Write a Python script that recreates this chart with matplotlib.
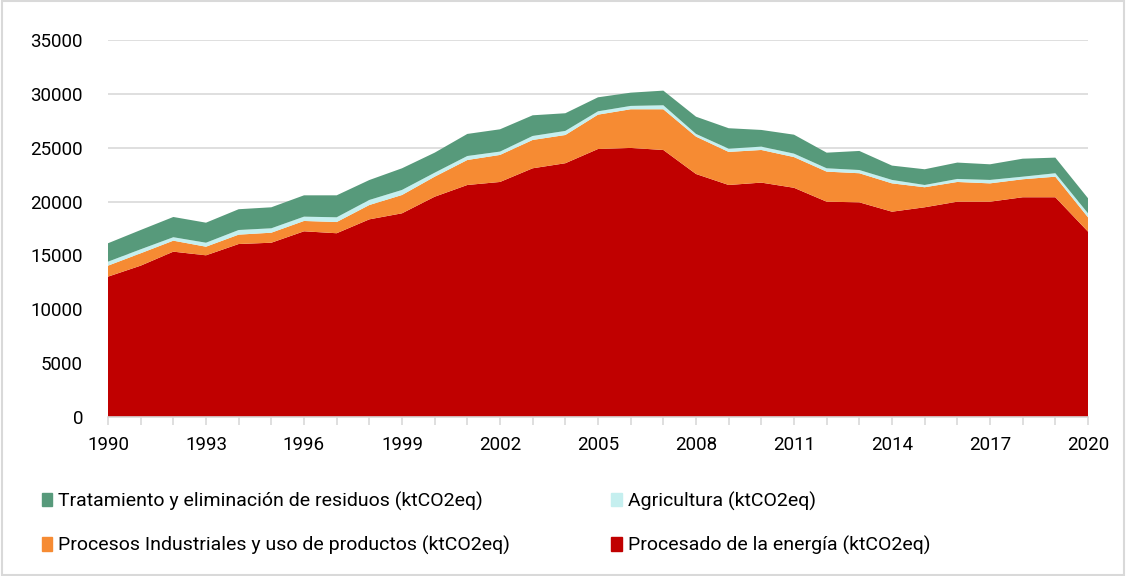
import matplotlib.pyplot as plt
from matplotlib.patches import Rectangle, Patch

years = list(range(1990, 2021))

# ktCO2eq per sector
energia = [13030, 14050, 15350, 15010, 16060, 16180, 17240, 17060, 18350, 18910,
           20450, 21540, 21820, 23090, 23560, 24880, 24980, 24790, 22560, 21540,
           21760, 21280, 19990, 19930, 19060, 19470, 19990, 19990, 20400, 20400,
           17210]
industria = [1020, 1150, 1020, 800, 870, 930, 960, 1040, 1330, 1700,
             1860, 2320, 2510, 2630, 2620, 3190, 3590, 3780, 3470, 3070,
             3030, 2850, 2790, 2700, 2630, 1860, 1830, 1700, 1670, 1910,
             1330]
agricultura = [370, 370, 320, 370, 430, 410, 400, 440, 470, 470,
               370, 370, 310, 370, 380, 310, 310, 370, 250, 300,
               310, 320, 310, 300, 320, 210, 280, 320, 240, 320,
               370]
residuos = [1710, 1790, 1880, 1860, 1930, 1950, 1980, 2040, 1850, 2010,
            1860, 2050, 2070, 1920, 1640, 1300, 1230, 1360, 1600, 1900,
            1550, 1760, 1450, 1770, 1330, 1460, 1520, 1450, 1670, 1450,
            1400]

labels = ["Procesado de la energía (ktCO2eq)",
          "Procesos Industriales y uso de productos (ktCO2eq)",
          "Agricultura (ktCO2eq)",
          "Tratamiento y eliminación de residuos (ktCO2eq)"]
colors = ["#C00000", "#F68B33", "#C5EFEF", "#579A7B"]

plt.rcParams["font.family"] = ["Roboto", "DejaVu Sans"]

fig = plt.figure(figsize=(11.26, 5.76), dpi=100)
ax = fig.add_axes([108 / 1126, 1 - 417 / 576, 980 / 1126, 377 / 576])

ax.stackplot(years, energia, industria, agricultura, residuos,
             colors=colors, labels=labels, linewidth=0)

ax.set_xlim(1990, 2020)
ax.set_ylim(0, 35000)
ax.set_yticks(range(0, 35001, 5000))
ax.set_xticks(years, minor=True)
ax.set_xticks(range(1990, 2021, 3))
ax.grid(axis="y", color="#D9D9D9", linewidth=1.2)
ax.set_axisbelow(True)
for s in ["top", "right", "left"]:
    ax.spines[s].set_visible(False)
ax.spines["bottom"].set_color("#D9D9D9")
ax.spines["bottom"].set_linewidth(1.2)
ax.tick_params(axis="y", length=0, labelsize=13.5, pad=18)
ax.tick_params(axis="x", which="both", length=6, color="#D9D9D9", width=1.2,
               labelsize=13.5, pad=8)

h = {l: Patch(color=c) for l, c in zip(labels, colors)}
order = [labels[3], labels[1], labels[2], labels[0]]
fig.legend([h[l] for l in order], order, ncol=2, loc="upper left",
           bbox_to_anchor=(24 / 1126, 1 - 474 / 576), frameon=False,
           fontsize=14, handlelength=0.55, handleheight=0.7, handletextpad=0.3,
           columnspacing=5.2, labelspacing=1.3)

fig.patches.append(Rectangle((0.002, 0.002), 0.996, 0.996, transform=fig.transFigure,
                             fill=False, edgecolor="#D9D9D9", linewidth=1.5))

fig.savefig("out.png", dpi=100)
plt.close(fig)
